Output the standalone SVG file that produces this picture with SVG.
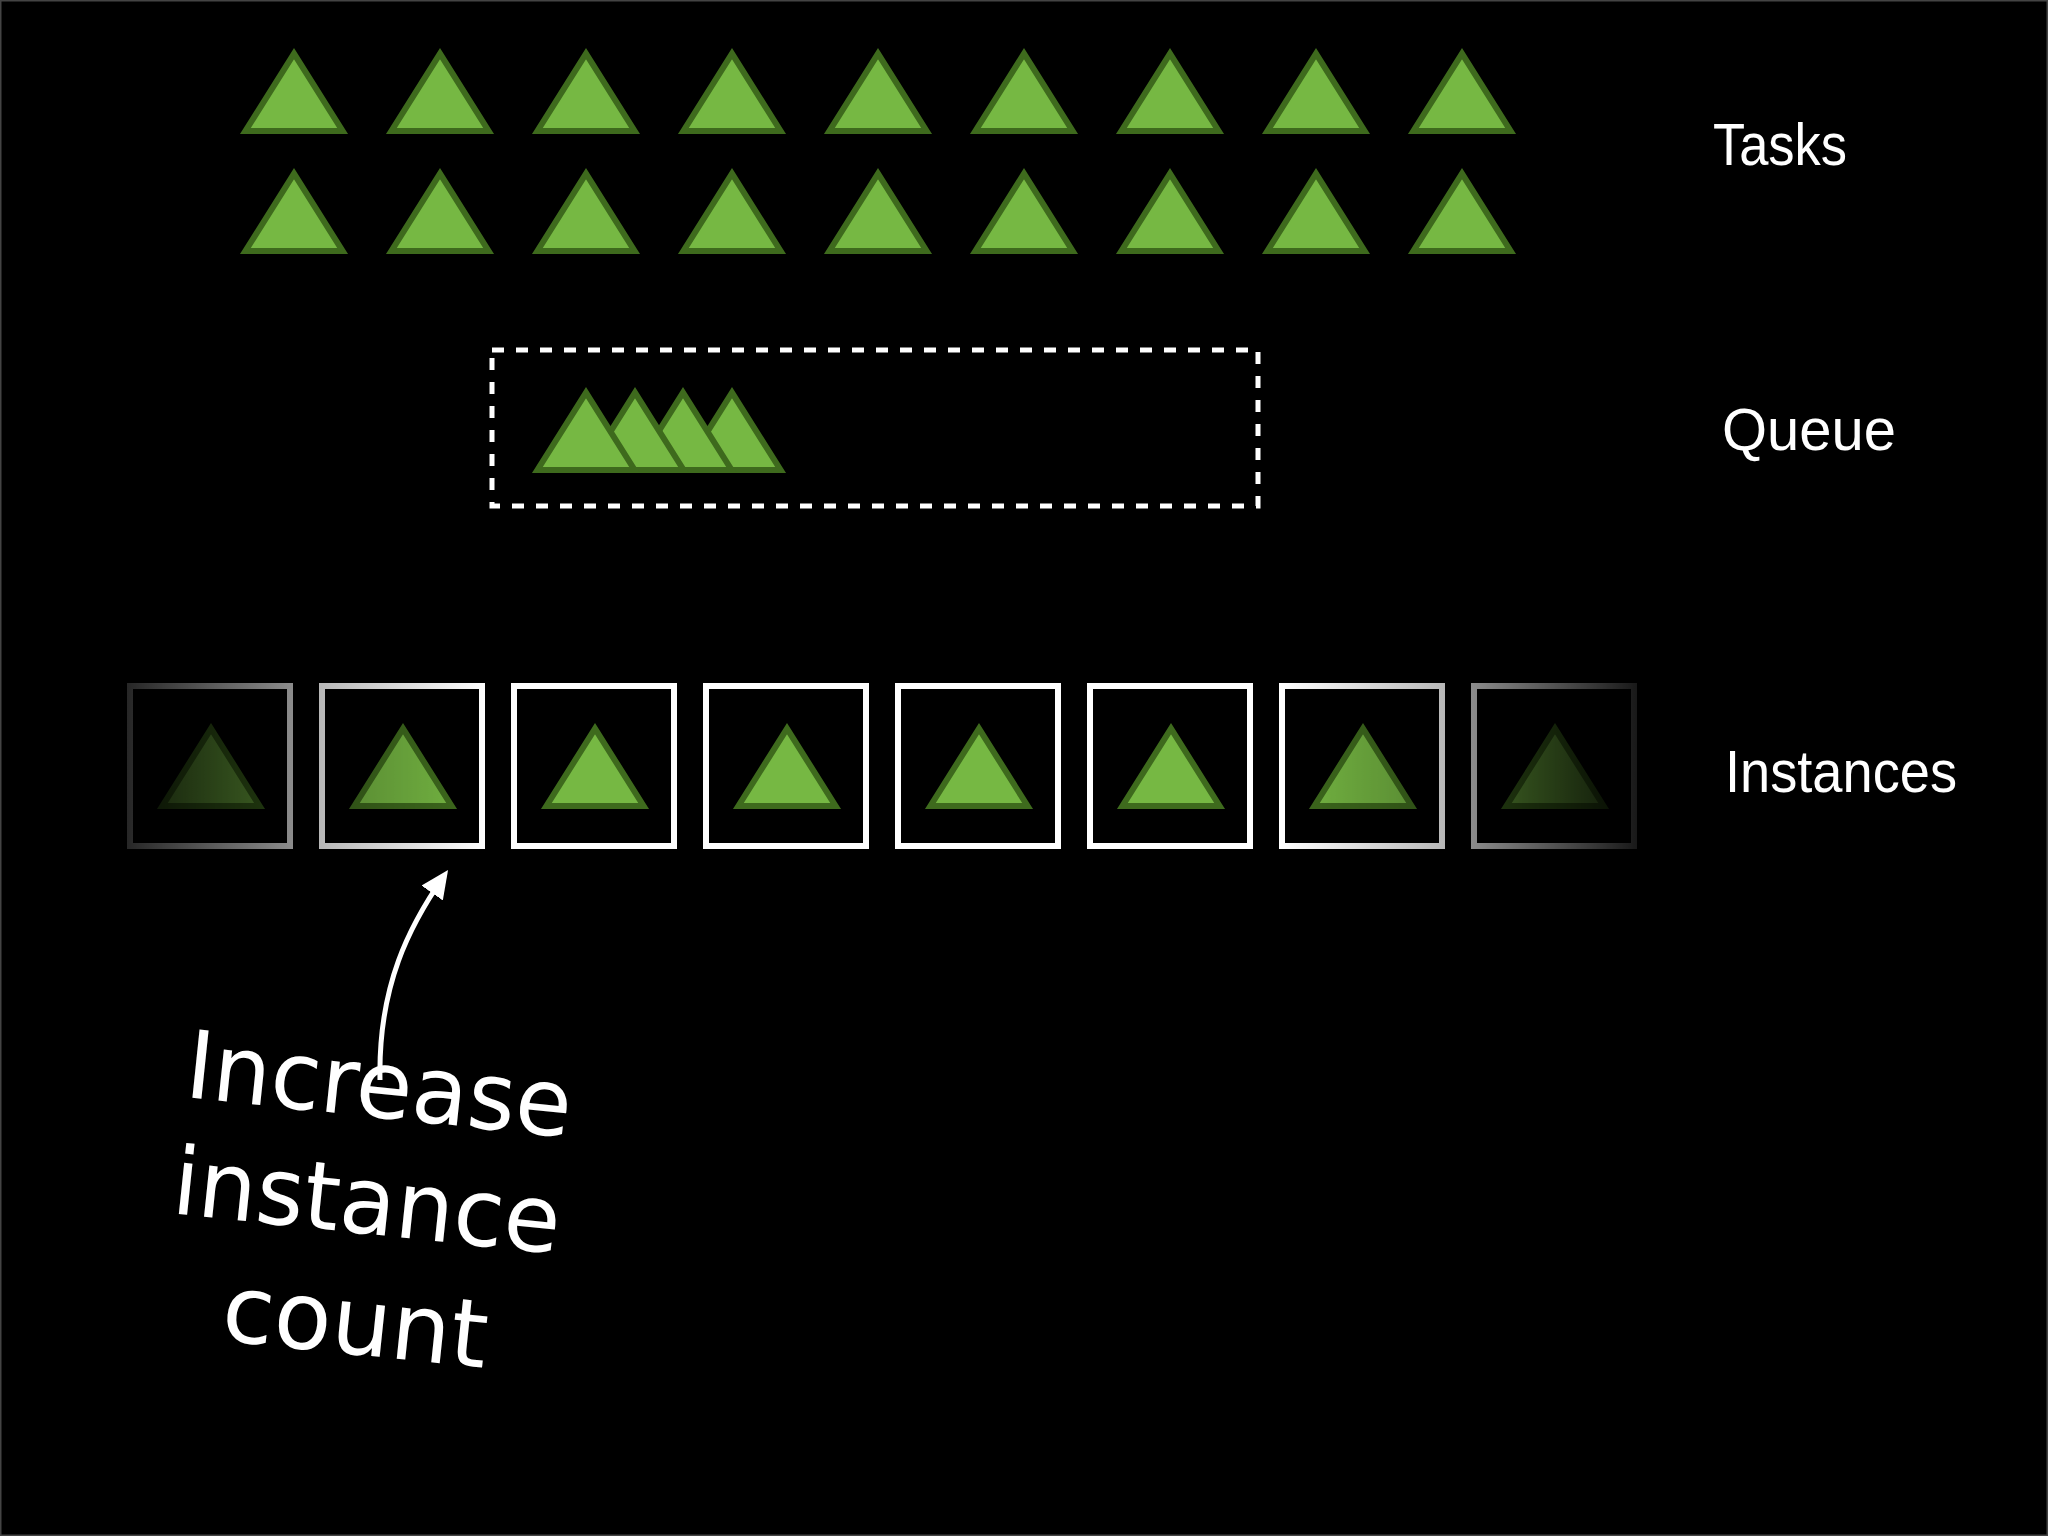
<svg xmlns="http://www.w3.org/2000/svg" width="2048" height="1536" viewBox="0 0 2048 1536">
<defs>
<style>
.tri{fill:#76b843;stroke:#3e6a1d;stroke-width:6;stroke-linejoin:miter}
.box{fill:none;stroke:#ffffff;stroke-width:6}
.lbl{font-family:"Liberation Sans",Arial,sans-serif;font-size:60px;fill:#ffffff}
.note{font-family:"DejaVu Sans","Liberation Sans",sans-serif;font-size:94px;fill:#ffffff;text-anchor:middle}
.queue{fill:none;stroke:#ffffff;stroke-width:5;stroke-dasharray:12 12}
.conn{fill:none;stroke:#ffffff;stroke-width:5}
</style>
<path id="t" class="tri" d="M0,5.6 L48.6,83 L-48.6,83 Z"/>
<linearGradient id="fadeGrad" gradientUnits="userSpaceOnUse" x1="0" y1="0" x2="2048" y2="0">
<stop offset="0.0488" stop-color="#fff" stop-opacity="0"/>
<stop offset="0.062" stop-color="#fff" stop-opacity="0.15"/>
<stop offset="0.143" stop-color="#fff" stop-opacity="0.55"/>
<stop offset="0.156" stop-color="#fff" stop-opacity="0.72"/>
<stop offset="0.237" stop-color="#fff" stop-opacity="1"/>
<stop offset="0.6245" stop-color="#fff" stop-opacity="1"/>
<stop offset="0.7056" stop-color="#fff" stop-opacity="0.72"/>
<stop offset="0.718" stop-color="#fff" stop-opacity="0.55"/>
<stop offset="0.799" stop-color="#fff" stop-opacity="0.1"/>
<stop offset="0.81" stop-color="#fff" stop-opacity="0"/>
</linearGradient>
<mask id="fade" maskUnits="userSpaceOnUse" x="0" y="0" width="2048" height="1536">
<rect x="0" y="0" width="2048" height="1536" fill="url(#fadeGrad)"/>
</mask>
<marker id="arrow" viewBox="0 0 28 26" refX="20" refY="13" markerWidth="28" markerHeight="26" markerUnits="userSpaceOnUse" orient="auto">
<path d="M0,0 L28,13 L0,26 Z" fill="#ffffff"/>
</marker>
</defs>
<rect x="0" y="0" width="2048" height="1536" fill="#000000"/>
<rect x="0.75" y="0.75" width="2046.5" height="1534.5" fill="none" stroke="#444444" stroke-width="1.5"/>

<g id="tasks">
<use href="#t" x="294" y="48"/><use href="#t" x="440" y="48"/><use href="#t" x="586" y="48"/>
<use href="#t" x="732" y="48"/><use href="#t" x="878" y="48"/><use href="#t" x="1024" y="48"/>
<use href="#t" x="1170" y="48"/><use href="#t" x="1316" y="48"/><use href="#t" x="1462" y="48"/>
<use href="#t" x="294" y="168"/><use href="#t" x="440" y="168"/><use href="#t" x="586" y="168"/>
<use href="#t" x="732" y="168"/><use href="#t" x="878" y="168"/><use href="#t" x="1024" y="168"/>
<use href="#t" x="1170" y="168"/><use href="#t" x="1316" y="168"/><use href="#t" x="1462" y="168"/>
</g>

<g id="queue">
<rect class="queue" x="492" y="350" width="766" height="156"/>
<use href="#t" x="732" y="387"/>
<use href="#t" x="683" y="387"/>
<use href="#t" x="635" y="387"/>
<use href="#t" x="586" y="387"/>
</g>

<g id="instances" mask="url(#fade)">
<g id="inst1"><rect class="box" x="130" y="686" width="160" height="160"/><use href="#t" x="211" y="723"/></g>
<g id="inst2"><rect class="box" x="322" y="686" width="160" height="160"/><use href="#t" x="403" y="723"/></g>
<g id="inst3"><rect class="box" x="514" y="686" width="160" height="160"/><use href="#t" x="595" y="723"/></g>
<g id="inst4"><rect class="box" x="706" y="686" width="160" height="160"/><use href="#t" x="787" y="723"/></g>
<g id="inst5"><rect class="box" x="898" y="686" width="160" height="160"/><use href="#t" x="979" y="723"/></g>
<g id="inst6"><rect class="box" x="1090" y="686" width="160" height="160"/><use href="#t" x="1171" y="723"/></g>
<g id="inst7"><rect class="box" x="1282" y="686" width="160" height="160"/><use href="#t" x="1363" y="723"/></g>
<g id="inst8"><rect class="box" x="1474" y="686" width="160" height="160"/><use href="#t" x="1555" y="723"/></g>
</g>

<g id="labels">
<text class="lbl" x="1713" y="165" textLength="134" lengthAdjust="spacingAndGlyphs">Tasks</text>
<text class="lbl" x="1722" y="450" textLength="174" lengthAdjust="spacingAndGlyphs">Queue</text>
<text class="lbl" x="1725" y="792" textLength="232" lengthAdjust="spacingAndGlyphs">Instances</text>
</g>

<g id="note" transform="translate(185,1097) rotate(6)">
<text class="note" x="192" y="0" textLength="387" lengthAdjust="spacingAndGlyphs">Increase</text>
<text class="note" x="192" y="117" textLength="389" lengthAdjust="spacingAndGlyphs">instance</text>
<text class="note" x="193" y="238" textLength="266" lengthAdjust="spacingAndGlyphs">count</text>
</g>

<g id="connectors">
<path class="conn" d="M380,1080 C378,985 410,925 443.5,876.6" marker-end="url(#arrow)"/>
</g>
</svg>
